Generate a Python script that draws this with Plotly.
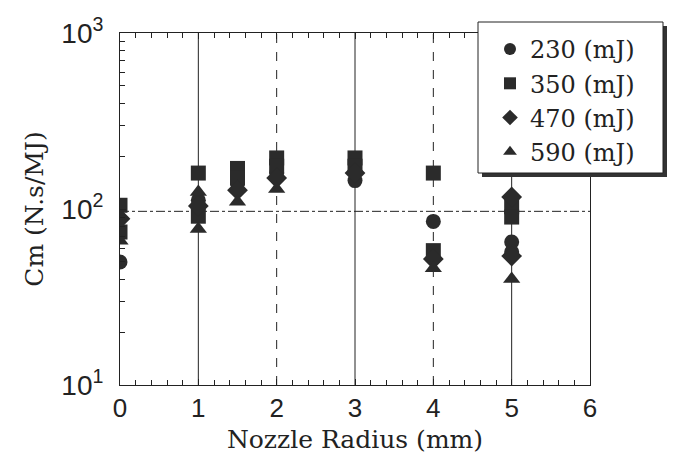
import plotly.graph_objects as go

# ---- data ----
x230 = [0, 1, 1.5, 2, 3, 4, 5, 5]
c230 = [50, 112, 140, 160, 145, 85, 65, 57]

x350 = [0, 0, 1, 1, 1.5, 1.5, 2, 2, 3, 3, 4, 4, 5, 5]
c350 = [105, 74, 160, 91, 170, 150, 195, 175, 195, 175, 160, 58, 103, 90]

x470 = [0, 1, 1.5, 2, 3, 4, 5, 5]
c470 = [88, 104, 128, 150, 160, 52, 117, 54]

x590 = [0, 1, 1, 1.5, 2, 4, 5]
c590 = [66, 125, 77, 110, 130, 46, 40]

series_names = ["230 (mJ)", "350 (mJ)", "470 (mJ)", "590 (mJ)"]
symbols = ["circle", "square", "diamond", "triangle-up"]

solid_lines_x = [1, 3, 5]
dashed_lines_x = [2, 4]
ref_level = 97

x_ticks = [0, 1, 2, 3, 4, 5, 6]
y_tickvals = [10, 100, 1000]
y_ticktext = ["10<sup>1</sup>", "10<sup>2</sup>", "10<sup>3</sup>"]

# ---- figure ----
fig = go.Figure()
mark_color = "#2b2b2b"
sizes = [15, 15, 16, 15]
for name, xs, ys, sym, sz in zip(series_names, [x230, x350, x470, x590],
                                 [c230, c350, c470, c590], symbols, sizes):
    fig.add_trace(go.Scatter(
        x=xs, y=ys, mode="markers", name=name,
        marker=dict(symbol=sym, size=sz, color=mark_color,
                    line=dict(width=0)),
    ))

shapes = []
for xv in solid_lines_x:
    shapes.append(dict(type="line", xref="x", yref="paper", x0=xv, x1=xv,
                       y0=0, y1=1, line=dict(color="#222", width=1),
                       layer="below"))
for xv in dashed_lines_x:
    shapes.append(dict(type="line", xref="x", yref="paper", x0=xv, x1=xv,
                       y0=0, y1=1, line=dict(color="#222", width=1, dash="dash"),
                       layer="below"))
shapes.append(dict(type="line", xref="paper", yref="y", x0=0, x1=1,
                   y0=ref_level, y1=ref_level,
                   line=dict(color="#222", width=1, dash="dashdot"),
                   layer="below"))

# legend box with shadow (paper coords)
L, R, T, B = 120, 590, 33, 385
def px_x(p):
    return (p - L) / (R - L)
def px_y(p):
    return (B - p) / (B - T)
shapes.append(dict(type="rect", xref="paper", yref="paper",
                   x0=px_x(482), x1=px_x(667), y0=px_y(177), y1=px_y(26),
                   fillcolor="#333", line=dict(width=0), layer="above"))
shapes.append(dict(type="rect", xref="paper", yref="paper",
                   x0=px_x(478), x1=px_x(663), y0=px_y(173), y1=px_y(22),
                   fillcolor="white", line=dict(color="#222", width=1),
                   layer="above"))

SERIF = "DejaVu Serif, serif"
SANS_N = "Liberation Sans Narrow, Liberation Sans, sans-serif"

fig.update_layout(
    width=675, height=462,
    margin=dict(l=L, r=675 - R, t=T, b=462 - B),
    paper_bgcolor="white", plot_bgcolor="white",
    shapes=shapes,
    showlegend=True,
    legend=dict(x=px_x(490), y=px_y(27), xanchor="left", yanchor="top",
                bgcolor="rgba(0,0,0,0)", borderwidth=0,
                font=dict(family=SERIF, size=24, color="#222"),
                itemsizing="constant", tracegroupgap=0),
    font=dict(family=SERIF, color="#222"),
)

fig.update_xaxes(
    range=[0, 6], tickvals=x_ticks, ticktext=[str(t) for t in x_ticks],
    showgrid=False, zeroline=False,
    showline=True, linecolor="#222", linewidth=1, mirror="ticks",
    ticks="inside", ticklen=6, tickcolor="#222",
    minor=dict(ticks="inside", ticklen=5, dtick=0.2, tickcolor="#222", showgrid=False),
    tickfont=dict(family=SANS_N, size=26),
    title=dict(text="Nozzle Radius (mm)", standoff=8,
               font=dict(family=SERIF, size=25)),
)
fig.update_yaxes(
    type="log", range=[1, 3], tickvals=y_tickvals, ticktext=y_ticktext,
    showgrid=False, zeroline=False,
    showline=True, linecolor="#222", linewidth=1, mirror=True,
    ticks="inside", ticklen=6, tickcolor="#222",
    minor=dict(ticks="inside", ticklen=5, dtick="D1", tickcolor="#222", showgrid=False),
    tickfont=dict(family=SANS_N, size=28),
    ticklabelstandoff=10,
    title=dict(text="Cm (N.s/MJ)", standoff=10,
               font=dict(family=SERIF, size=25)),
)

fig.write_html("out.html")
